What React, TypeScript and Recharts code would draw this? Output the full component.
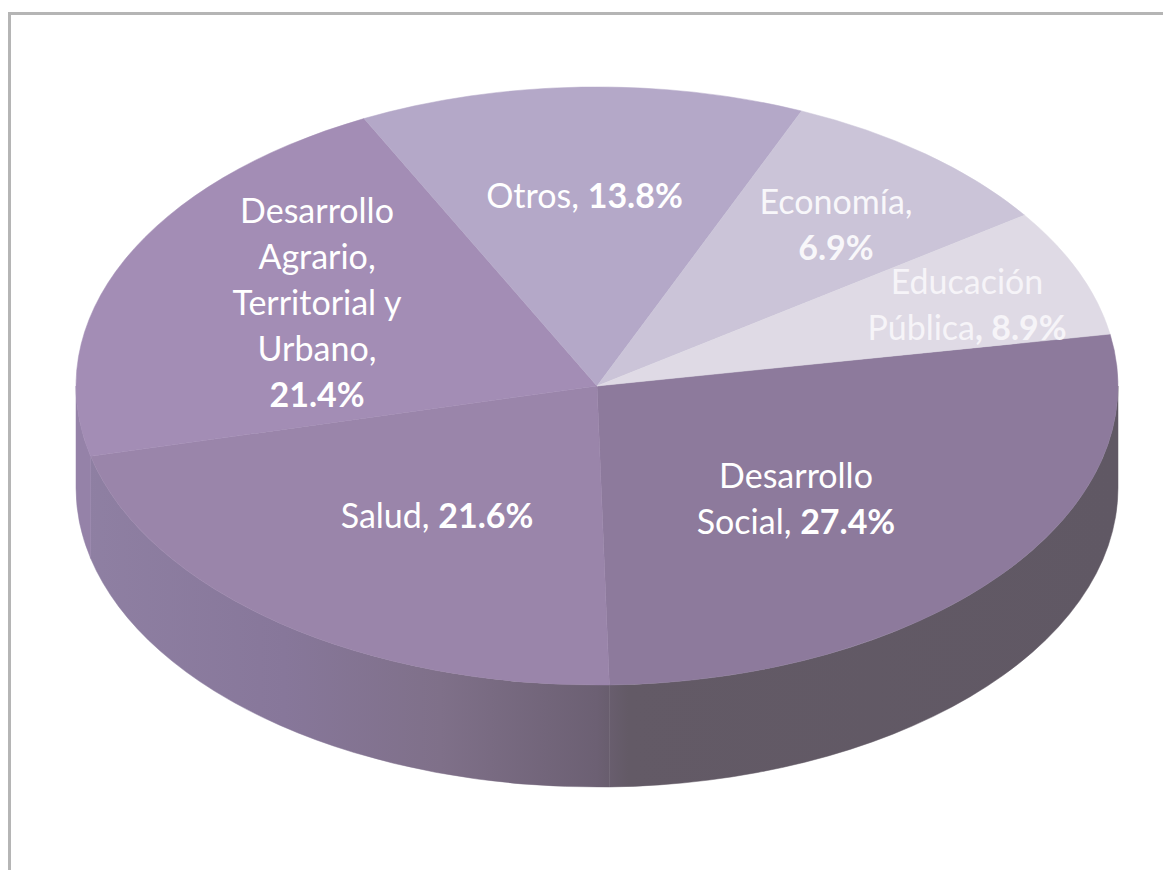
import React from "react";
import { PieChart, Pie, Cell } from "recharts";

const categories = ["Desarrollo Social", "Salud", "Desarrollo Agrario, Territorial y Urbano", "Otros", "Economía", "Educación Pública"];
// size of each wedge as measured in the picture
const wedgeShares = [27.4, 21.6, 21.4, 13.8, 8.9, 6.9];
// the percentage printed on each wedge in the picture
const printedShares = ["27.4%", "21.6%", "21.4%", "13.8%", "6.9%", "8.9%"];
const topColors = ["#8d7a9c", "#9a85aa", "#a38db5", "#b4a8c8", "#cbc4d8", "#dfdae5"];
const labelLines = [
  ["Desarrollo", "Social, "],
  ["Salud, "],
  ["Desarrollo", "Agrario,", "Territorial y", "Urbano,", ""],
  ["Otros, "],
  ["Economía,", ""],
  ["Educación", "Pública"],
];
const boldPrefixes = ["", "", "", "", "", ", "];
const labelColors = ["#ffffff", "#ffffff", "#ffffff", "#ffffff", "#f8f7fa", "#f6f4f8"];
// label centre, as an offset from the pie centre (layout only)
const labelOffsets = [
  [199, 125],
  [-160, 142],
  [-280, -71],
  [-12.5, -178],
  [239, -149],
  [370, -69.5],
];

const W = 1163;
const H = 870;
const CX = 597;
const CY = 386;
const RX = 521;
const TILT = 0.574;
const DEPTH = 102;
const LINE = 46;
const FONT = "Lato, sans-serif";

const pt = (deg: number, dy = 0) => {
  const a = (deg * Math.PI) / 180;
  return [CX + RX * Math.cos(a), CY + dy - RX * TILT * Math.sin(a)];
};

const arc = (from: number, to: number, dy: number) => {
  const [x, y] = pt(to, dy);
  const large = Math.abs(to - from) > 180 ? 1 : 0;
  const sweep = to < from ? 1 : 0;
  return `A ${RX} ${RX * TILT} 0 ${large} ${sweep} ${x} ${y}`;
};

const TopSector = (props: any) => {
  const { startAngle, endAngle, fill } = props;
  const [sx, sy] = pt(startAngle);
  return <path d={`M ${CX} ${CY} L ${sx} ${sy} ${arc(startAngle, endAngle, 0)} Z`} fill={fill} stroke={fill} strokeWidth={0.5} />;
};

const WallSector = (props: any) => {
  const { startAngle, endAngle, index } = props;
  // only the part of the rim that faces the viewer (sin < 0) is visible
  const lo = Math.max(endAngle, -180);
  const hi = Math.min(startAngle, 0);
  if (hi <= lo) return <g />;
  const [sx, sy] = pt(hi);
  const [ex, ey] = pt(lo, DEPTH);
  const fill = index === 2 ? "#9582a8" : "url(#wall)";
  return (
    <path
      d={`M ${sx} ${sy} ${arc(hi, lo, 0)} L ${ex} ${ey} ${arc(lo, hi, DEPTH)} Z`}
      fill={fill}
      stroke={fill}
      strokeWidth={0.5}
    />
  );
};

const renderLabel = (props: any) => {
  const i = props.index as number;
  const lines = labelLines[i];
  const [ox, oy] = labelOffsets[i];
  const x = CX + ox;
  const y0 = CY + oy - ((lines.length - 1) * LINE) / 2;
  return (
    <text key={i} x={x} y={y0} textAnchor="middle" fontFamily={FONT} fontSize={34} fill={labelColors[i]}>
      {lines.map((l, k) => (
        <tspan key={k} x={x} y={y0 + k * LINE} style={{ whiteSpace: "pre" }}>
          {l}
          {k === lines.length - 1 ? <tspan fontWeight={700}>{`${boldPrefixes[i]}${printedShares[i]}`}</tspan> : null}
        </tspan>
      ))}
    </text>
  );
};

const data = categories.map((name, i) => ({ name, value: wedgeShares[i] }));

export default function App() {
  return (
    <div style={{ position: "absolute", left: 0, top: 0, width: W, height: H, background: "#fff", overflow: "hidden" }}>
      <div style={{ position: "absolute", left: 8, top: 12, right: 0, bottom: 0, borderTop: "3px solid #b5b5b5", borderLeft: "3px solid #b5b5b5", boxSizing: "border-box" }} />
      <div style={{ position: "absolute", left: 0, top: 0 }}>
        <PieChart width={W} height={H} margin={{ top: 0, right: 0, bottom: 0, left: 0 }}>
          <defs>
            <linearGradient id="wall" gradientUnits="userSpaceOnUse" x1={76} y1={0} x2={1118} y2={0}>
              <stop offset="0" stopColor="#8f80a3" />
              <stop offset="0.2" stopColor="#87779a" />
              <stop offset="0.35" stopColor="#7f7089" />
              <stop offset="0.5" stopColor="#6c6073" />
              <stop offset="0.53" stopColor="#635a66" />
              <stop offset="1" stopColor="#605864" />
            </linearGradient>
          </defs>
          <Pie
            data={data}
            dataKey="value"
            nameKey="name"
            cx={CX}
            cy={CY}
            outerRadius={RX}
            startAngle={10}
            endAngle={-350}
            isAnimationActive={false}
            shape={WallSector}
            label={false}
            labelLine={false}
          >
            {data.map((d, i) => (
              <Cell key={d.name} fill={topColors[i]} />
            ))}
          </Pie>
          <Pie
            data={data}
            dataKey="value"
            nameKey="name"
            cx={CX}
            cy={CY}
            outerRadius={RX}
            startAngle={10}
            endAngle={-350}
            isAnimationActive={false}
            shape={TopSector}
            label={renderLabel}
            labelLine={false}
          >
            {data.map((d, i) => (
              <Cell key={d.name} fill={topColors[i]} />
            ))}
          </Pie>
        </PieChart>
      </div>
    </div>
  );
}
